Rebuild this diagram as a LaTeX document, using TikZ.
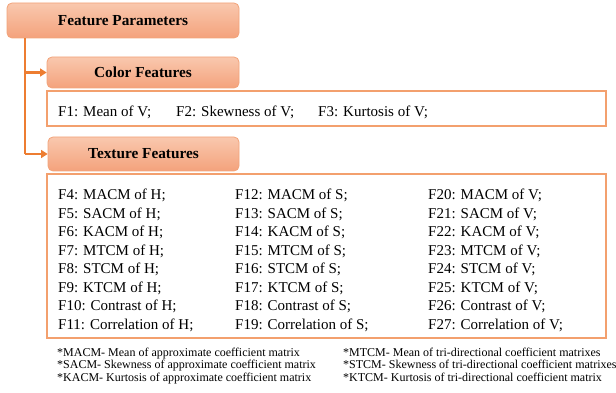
\documentclass[tikz,border=0pt]{standalone}
\usepackage{fontspec}
\setmainfont{Liberation Serif}
\usetikzlibrary{arrows.meta}
\definecolor{boxtop}{HTML}{F9C8AE}
\definecolor{boxbot}{HTML}{F4A27C}
\definecolor{boxedge}{HTML}{F2A37A}
\definecolor{linkline}{HTML}{ED7D31}
\definecolor{panel}{HTML}{F3A06E}
\begin{document}
\begin{tikzpicture}[x=1pt,y=-1pt,
  header/.style={draw=boxedge,line width=0.8pt,rounded corners=5pt,
    top color=boxtop,bottom color=boxbot,shading angle=0,
    inner sep=0pt,font=\fontsize{15.3}{17}\selectfont\bfseries},
  panelbox/.style={draw=panel,line width=1.4pt,fill=white,inner sep=0pt},
  item/.style={anchor=base west,inner sep=0pt,font=\fontsize{15}{17}\selectfont},
  note/.style={anchor=base west,inner sep=0pt,font=\fontsize{12}{13}\selectfont},
  link/.style={draw=linkline,line width=2.4pt},
  arr/.style={link,-{Triangle[length=6.5pt,width=8pt]}}]
\useasboundingbox (0,0) rectangle (616,393);

% header boxes
\node[header,minimum width=232pt,minimum height=35pt] (fp) at (123,20.5) {Feature Parameters};
\node[header,minimum width=192pt,minimum height=31pt] (cf) at (143,72.5) {Color Features};
\node[header,minimum width=191pt,minimum height=34pt] (tf) at (143.5,154) {Texture Features};

% content panels
\node[panelbox,minimum width=559pt,minimum height=35pt] (cp) at (326.5,108.5) {};
\node[panelbox,minimum width=559pt,minimum height=164pt] (tp) at (326.5,256) {};

% tree connectors
\coordinate (trunk) at (25,0);
\draw[link] (trunk |- fp.south) -- (trunk |- tf.west);
\draw[arr] (trunk |- cf.west) -- (cf.west);
\draw[arr] (trunk |- tf.west) -- (tf.west);

% colour features
\node[item] (f1) at (58,117) {F1: Mean of V;};
\node[item] (f2) at (176,117) {F2: Skewness of V;};
\node[item] (f3) at (318,117) {F3: Kurtosis of V;};

% texture features
\foreach \ch [count=\c from 0] in {H,S,V}{
  \pgfmathsetmacro{\xx}{\c==0 ? 58 : (\c==1 ? 235 : 428)}
  \foreach \nm [count=\r from 0] in {MACM,SACM,KACM,MTCM,STCM,KTCM,Contrast,Correlation}{
    \pgfmathtruncatemacro{\fn}{4+8*\c+\r}
    \node[item] (t\fn) at (\xx,200+18.43*\r) {F\fn: \nm\ of \ch;};
  }
}

% abbreviations
\node[note] (n1) at (57,356) {*MACM- Mean of approximate coefficient matrix};
\node[note] (n2) at (57,368.5) {*SACM- Skewness of approximate coefficient matrix};
\node[note] (n3) at (57,381) {*KACM- Kurtosis of approximate coefficient matrix};
\node[note] (n4) at (343,356) {*MTCM- Mean of tri-directional coefficient matrixes};
\node[note] (n5) at (343,368.5) {*STCM- Skewness of tri-directional coefficient matrixes};
\node[note] (n6) at (343,381) {*KTCM- Kurtosis of tri-directional coefficient matrix};
\end{tikzpicture}
\end{document}
